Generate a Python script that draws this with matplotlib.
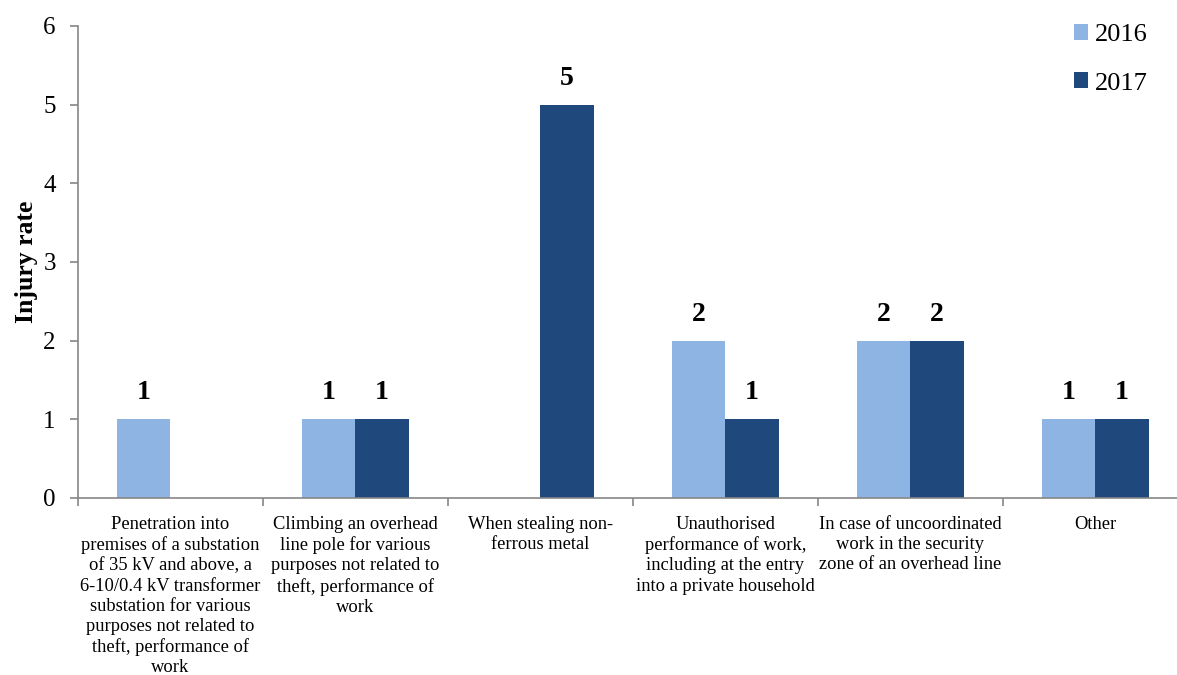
import matplotlib.pyplot as plt
import numpy as np

plt.rcParams['font.family'] = ['Liberation Serif', 'DejaVu Serif']

categories = [
    "Penetration into\npremises of a substation\nof 35 kV and above, a\n6-10/0.4 kV transformer\nsubstation for various\npurposes not related to\ntheft, performance of\nwork",
    "Climbing an overhead\nline pole for various\npurposes not related to\ntheft, performance of\nwork",
    "When stealing non-\nferrous metal",
    "Unauthorised\nperformance of work,\nincluding at the entry\ninto a private household",
    "In case of uncoordinated\nwork in the security\nzone of an overhead line",
    "Other",
]
values_2016 = [1, 1, 0, 2, 2, 1]
values_2017 = [0, 1, 5, 1, 2, 1]
years = ["2016", "2017"]
colors = ["#8EB4E3", "#1F497D"]

fig = plt.figure(figsize=(11.77, 6.75), dpi=100)
ax = fig.add_axes([78 / 1177, 177 / 675, 1110 / 1177, 472 / 675])

x = np.arange(len(categories))
w = 0.287
b1 = ax.bar(x - w / 2, values_2016, w, color=colors[0], label=years[0])
b2 = ax.bar(x + w / 2, values_2017, w, color=colors[1], label=years[1])

# value labels, skip zeros
for bars, vals in [(b1, values_2016), (b2, values_2017)]:
    for rect, v in zip(bars, vals):
        if v == 0:
            continue
        ax.annotate(str(v), (rect.get_x() + rect.get_width() / 2, v),
                    xytext=(0, 10), textcoords='offset points',
                    ha='center', va='bottom', fontsize=20, fontweight='bold')

ax.set_xlim(-0.5, len(categories) - 0.5)
ax.set_ylim(0, 6)
ax.set_yticks(range(7))
ax.tick_params(axis='y', labelsize=18, color='#868686', length=6, width=1.2, pad=10)

# boundary ticks on x, labels at centers
ax.set_xticks(np.arange(len(categories) + 1) - 0.5)
ax.set_xticklabels([])
ax.tick_params(axis='x', which='major', color='#868686', length=6, width=1.2, direction='out')
ax.set_xticks(x, minor=True)
ax.set_xticklabels(categories, minor=True, fontsize=13.3, linespacing=1.24)
ax.tick_params(axis='x', which='minor', length=0, pad=13)
for lbl in ax.get_xticklabels(minor=True):
    lbl.set_va('top')

for s in ['top', 'right']:
    ax.spines[s].set_visible(False)
for s in ['left', 'bottom']:
    ax.spines[s].set_color('#868686')
    ax.spines[s].set_linewidth(1.2)

ax.set_ylabel('Injury rate', fontsize=18.5, fontweight='bold', labelpad=4)

ax.legend(loc='upper left', bbox_to_anchor=(1050 / 1177, 1),
          bbox_transform=fig.transFigure, frameon=False, fontsize=19,
          handlelength=0.55, handleheight=0.55, handletextpad=0.25,
          labelspacing=1.0)

fig.savefig('out.png', dpi=100)
